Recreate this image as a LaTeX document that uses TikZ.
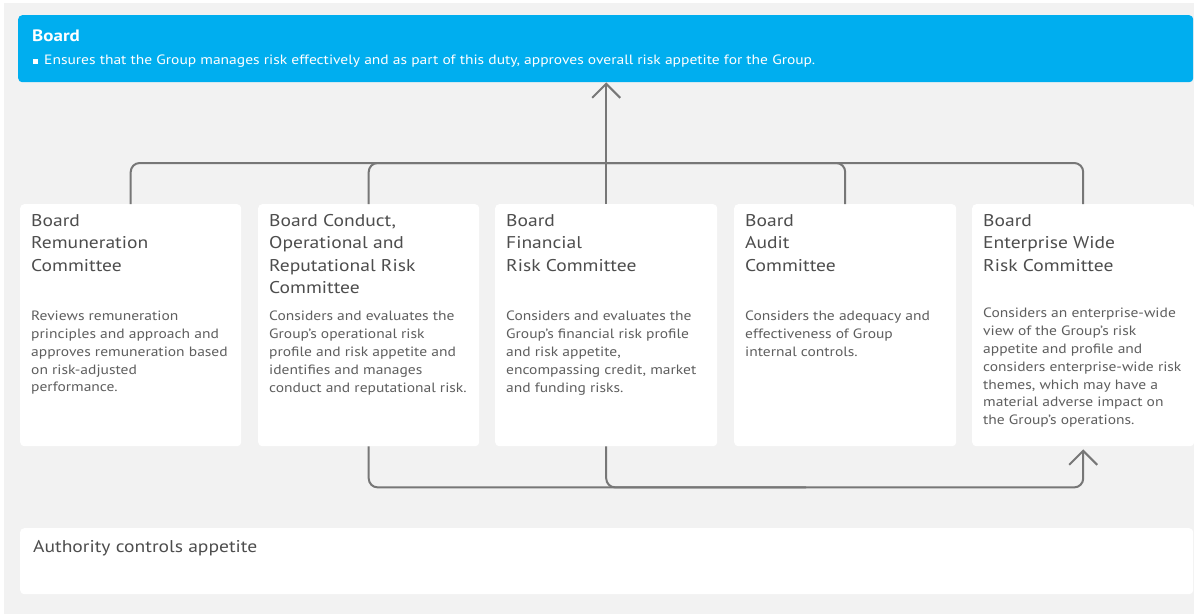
\documentclass[tikz,border=0pt]{standalone}
\usepackage{fontspec}
\setmainfont{PT Sans}[FakeStretch=1.15]
\usetikzlibrary{arrows.meta,calc}
\definecolor{bg}{HTML}{F2F2F2}
\definecolor{boardblue}{HTML}{00AEEF}
\definecolor{ttlc}{HTML}{4D4D4D}
\definecolor{dscc}{HTML}{5E5E5E}
\definecolor{connc}{HTML}{777777}
\begin{document}
\begin{tikzpicture}[x=1pt,y=-1pt,
  panel/.style={fill=white, rounded corners=4pt, draw=none, inner sep=0pt, anchor=north west},
  ttltext/.style={anchor=north west, inner sep=0pt, align=left, text=ttlc,
     font=\fontsize{17}{22.5}\selectfont},
  dsctext/.style={anchor=north west, inner sep=0pt, align=left, text=dscc,
     font=\fontsize{13.5}{17.8}\selectfont},
  connline/.style={draw=connc, line width=2pt, rounded corners=9pt},
  uparrow/.style={-{Straight Barb[length=14pt,width=28pt,line width=2pt]}}
]
\useasboundingbox (0,0) rectangle (1194,614);
\fill[white] (0,0) rectangle (1194,614);
\fill[bg] (4,3) rectangle (1194,614);

% Board
\node[panel, fill=boardblue, minimum width=1175pt, minimum height=67pt] (board) at (18,15) {};
\node[anchor=north west, inner sep=0pt, text=white, font=\fontsize{16.5}{20}\selectfont\bfseries] (boardttl) at (32,30) {Board};
\node[anchor=north west, inner sep=0pt, text=white, font=\fontsize{13.5}{15}\selectfont] (boardtxt) at (33,55)
  {\rule[1pt]{5pt}{5pt}\hspace{6pt}Ensures that the Group manages risk effectively and as part of this duty, approves overall risk appetite for the Group.};

% Committees
\node[panel, minimum width=221pt, minimum height=242pt] (c1) at (20,204) {};
\node[panel, minimum width=221pt, minimum height=242pt] (c2) at (258,204) {};
\node[panel, minimum width=222pt, minimum height=242pt] (c3) at (495,204) {};
\node[panel, minimum width=222pt, minimum height=242pt] (c4) at (734,204) {};
\node[panel, minimum width=222pt, minimum height=242pt] (c5) at (972,204) {};

\node[ttltext] (t1) at ($(c1.north west)+(11,10)$) {Board\\Remuneration\\Committee};
\node[ttltext] (t2) at ($(c2.north west)+(11,10)$) {Board Conduct,\\Operational and\\Reputational Risk\\Committee};
\node[ttltext] (t3) at ($(c3.north west)+(11,10)$) {Board\\Financial\\Risk Committee};
\node[ttltext] (t4) at ($(c4.north west)+(11,10)$) {Board\\Audit\\Committee};
\node[ttltext] (t5) at ($(c5.north west)+(11,10)$) {Board\\Enterprise Wide\\Risk Committee};

\node[dsctext] (d1) at ($(c1.north west)+(11,107)$) {Reviews remuneration\\principles and approach and\\approves remuneration based\\on risk-adjusted\\performance.};
\node[dsctext] (d2) at ($(c2.north west)+(11,107)$) {Considers and evaluates the\\Group’s operational risk\\profile and risk appetite and\\identifies and manages\\conduct and reputational risk.};
\node[dsctext] (d3) at ($(c3.north west)+(11,107)$) {Considers and evaluates the\\Group’s financial risk profile\\and risk appetite,\\encompassing credit, market\\and funding risks.};
\node[dsctext] (d4) at ($(c4.north west)+(11,107)$) {Considers the adequacy and\\effectiveness of Group\\internal controls.};
\node[dsctext] (d5) at ($(c5.north west)+(11,104)$) {Considers an enterprise-wide\\view of the Group’s risk\\appetite and profile and\\considers enterprise-wide risk\\themes, which may have a\\material adverse impact on\\the Group’s operations.};

% Authority
\node[panel, minimum width=1173pt, minimum height=66pt] (auth) at (20,528) {};
\node[anchor=north west, inner sep=0pt, text=ttlc, font=\fontsize{17}{19}\selectfont] (authtxt) at (33,540) {Authority controls appetite};

% Connectors
\draw[connline] (c1.north) -- ++(0,-41) -| (c4.north);
\draw[connline] (c2.north) -- ++(0,-41) -| (c5.north);
\draw[draw=connc, line width=2pt, uparrow] (c3.north) -- (board.south -| c3.north);
\draw[connline] (c3.south) -- ++(0,41) -- ++(200,0);
\draw[connline, uparrow] (c2.south) -- ++(0,41) -| ($(c5.south)+(0,3)$);
\end{tikzpicture}
\end{document}
